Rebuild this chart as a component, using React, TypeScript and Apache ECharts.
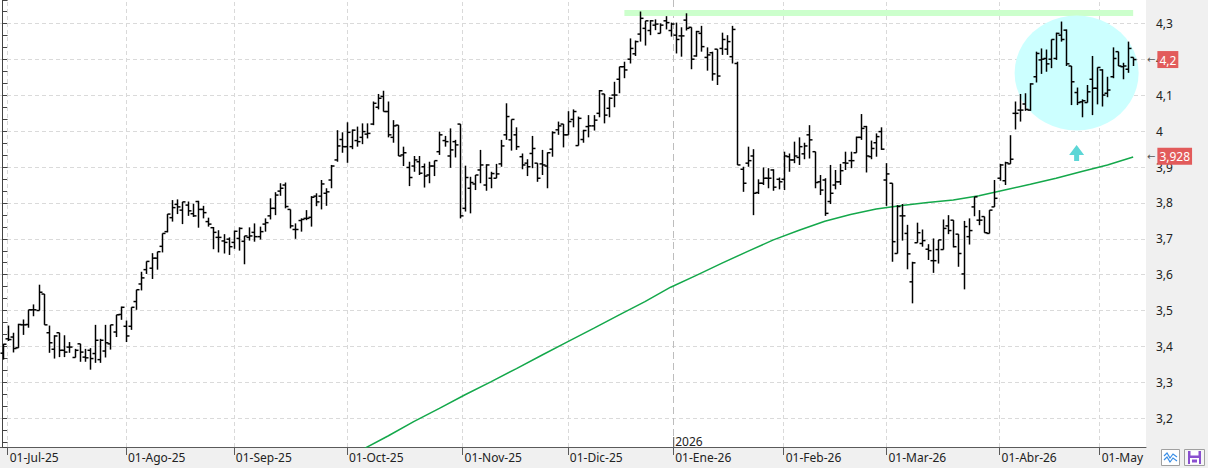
import React, { useEffect, useRef } from "react";
import * as echarts from "echarts";

// ---------- calendar (BME trading days) ----------
const HOLIDAYS = ["2025-12-25", "2025-12-26", "2026-01-01", "2026-04-03", "2026-04-06", "2026-05-01"];
function tradingDays(start: string, end: string): string[] {
  const out: string[] = [];
  const d = new Date(start + "T00:00:00Z");
  const e = new Date(end + "T00:00:00Z");
  while (d <= e) {
    const wd = d.getUTCDay();
    const s = d.toISOString().slice(0, 10);
    if (wd !== 0 && wd !== 6 && HOLIDAYS.indexOf(s) < 0) out.push(s);
    d.setUTCDate(d.getUTCDate() + 1);
  }
  return out;
}
const dates = tradingDays("2025-06-30", "2026-05-14");

// ---------- OHLC values ----------
const opens = [3.381,3.421,3.426,3.396,3.460,3.461,3.502,3.500,3.546,3.438,
3.392,3.438,3.389,3.398,3.369,3.407,3.370,3.389,3.380,3.363,
3.387,3.407,3.440,3.489,3.456,3.456,3.525,3.574,3.614,3.618,
3.646,3.679,3.720,3.759,3.796,3.780,3.794,3.770,3.804,3.782,
3.748,3.731,3.704,3.694,3.699,3.690,3.701,3.693,3.704,3.718,
3.706,3.741,3.764,3.785,3.833,3.850,3.782,3.726,3.751,3.757,
3.760,3.819,3.819,3.827,3.864,3.920,3.977,3.957,3.957,3.974,
3.983,3.992,4.020,4.067,4.097,4.055,3.983,4.017,3.934,3.899,
3.903,3.915,3.901,3.878,3.903,3.943,3.974,3.931,3.971,4.020,
3.785,3.841,3.853,3.892,3.850,3.869,3.869,3.909,3.990,3.976,
3.990,3.929,3.911,3.938,3.911,3.909,3.903,3.950,4.004,4.020,
3.990,4.033,3.960,3.977,4.013,4.015,4.050,4.104,4.064,4.101,
4.145,4.180,4.201,4.216,4.271,4.287,4.281,4.296,4.273,4.308,
4.281,4.268,4.266,4.310,4.290,4.210,4.273,4.206,4.219,4.229,
4.231,4.229,4.208,4.189,3.894,3.911,3.931,3.829,3.855,3.869,
3.892,3.866,3.866,3.929,3.920,3.927,3.937,3.990,3.943,3.859,
3.864,3.804,3.850,3.859,3.912,3.918,3.940,3.983,4.013,3.929,
3.968,3.999,3.864,3.855,3.659,3.764,3.715,3.580,3.689,3.687,
3.671,3.639,3.670,3.670,3.736,3.752,3.713,3.602,3.706,3.789,
3.752,3.762,3.715,3.789,3.869,3.862,3.909,4.050,4.059,4.076,
4.059,4.152,4.199,4.203,4.201,4.203,4.268,4.282,4.182,4.108,
4.082,4.080,4.145,4.120,4.171,4.106,4.152,4.222,4.180,4.173,
4.206];

const highs = [3.407,3.458,3.438,3.463,3.475,3.502,3.517,3.572,3.546,3.458,
3.431,3.438,3.431,3.412,3.393,3.407,3.393,3.395,3.460,3.421,
3.460,3.460,3.488,3.511,3.472,3.509,3.558,3.608,3.637,3.660,
3.664,3.715,3.769,3.808,3.810,3.803,3.804,3.798,3.806,3.792,
3.759,3.733,3.724,3.713,3.704,3.723,3.732,3.708,3.732,3.743,
3.734,3.757,3.813,3.830,3.855,3.857,3.782,3.743,3.757,3.780,
3.819,3.827,3.864,3.841,3.906,4.003,3.997,4.025,4.005,4.013,
4.022,4.022,4.083,4.104,4.113,4.083,4.031,4.017,3.957,3.915,
3.931,3.931,3.910,3.915,3.918,3.999,3.987,4.008,3.976,4.020,
3.904,3.873,3.878,3.948,3.908,3.887,3.909,3.976,4.078,4.033,
4.011,3.938,3.922,3.987,3.911,3.948,3.941,4.000,4.027,4.020,
4.056,4.061,4.041,4.004,4.045,4.045,4.115,4.104,4.095,4.138,
4.180,4.194,4.259,4.253,4.334,4.308,4.310,4.312,4.301,4.321,
4.303,4.303,4.290,4.329,4.290,4.280,4.294,4.234,4.222,4.229,
4.275,4.268,4.294,4.194,3.901,3.957,3.950,3.866,3.899,3.897,
3.894,3.871,3.943,3.938,3.971,3.983,3.968,4.017,3.943,3.878,
3.869,3.906,3.892,3.909,3.943,3.943,3.985,4.048,4.015,3.974,
3.994,4.011,3.911,3.855,3.794,3.797,3.739,3.636,3.745,3.726,
3.685,3.701,3.697,3.754,3.766,3.752,3.713,3.750,3.757,3.817,
3.780,3.762,3.780,3.864,3.909,3.915,3.989,4.083,4.104,4.106,
4.134,4.222,4.231,4.228,4.256,4.275,4.306,4.284,4.182,4.122,
4.089,4.129,4.210,4.178,4.173,4.152,4.234,4.222,4.191,4.250,
4.206];

const lows = [3.363,3.415,3.383,3.396,3.432,3.452,3.484,3.500,3.460,3.382,
3.366,3.370,3.370,3.382,3.369,3.357,3.357,3.335,3.354,3.354,
3.369,3.391,3.426,3.474,3.412,3.446,3.502,3.556,3.602,3.588,
3.614,3.662,3.718,3.748,3.769,3.741,3.764,3.761,3.731,3.757,
3.734,3.671,3.662,3.659,3.655,3.672,3.667,3.629,3.695,3.692,
3.698,3.720,3.754,3.766,3.820,3.785,3.729,3.700,3.720,3.752,
3.734,3.791,3.782,3.792,3.841,3.915,3.940,3.912,3.950,3.957,
3.964,3.980,4.017,4.061,4.055,3.983,3.968,3.931,3.903,3.847,
3.887,3.878,3.843,3.855,3.875,3.934,3.957,3.898,3.927,3.757,
3.776,3.771,3.836,3.855,3.834,3.841,3.869,3.901,3.976,3.946,
3.948,3.894,3.875,3.897,3.859,3.878,3.841,3.929,3.990,3.955,
3.990,4.011,3.960,3.968,3.983,4.002,4.039,4.022,4.039,4.067,
4.106,4.148,4.189,4.210,4.250,4.239,4.268,4.282,4.273,4.284,
4.264,4.217,4.208,4.281,4.173,4.208,4.222,4.169,4.141,4.129,
4.213,4.213,4.189,3.906,3.831,3.901,3.766,3.825,3.850,3.841,
3.834,3.838,3.836,3.887,3.911,3.906,3.922,3.924,3.841,3.822,
3.764,3.797,3.838,3.850,3.892,3.897,3.940,3.976,3.885,3.922,
3.929,3.948,3.792,3.636,3.659,3.695,3.615,3.520,3.689,3.678,
3.641,3.605,3.631,3.670,3.713,3.676,3.622,3.559,3.684,3.763,
3.738,3.717,3.715,3.789,3.862,3.850,3.909,4.005,4.027,4.057,
4.057,4.136,4.160,4.166,4.176,4.199,4.250,4.182,4.073,4.073,
4.039,4.080,4.045,4.075,4.069,4.095,4.148,4.182,4.145,4.163,
4.182];

const closes = [3.406,3.419,3.394,3.461,3.460,3.502,3.502,3.551,3.460,3.410,
3.429,3.389,3.384,3.398,3.389,3.384,3.368,3.366,3.417,3.417,
3.410,3.460,3.488,3.509,3.429,3.509,3.558,3.591,3.637,3.646,
3.664,3.715,3.769,3.787,3.789,3.803,3.778,3.764,3.782,3.773,
3.741,3.718,3.704,3.690,3.678,3.721,3.729,3.708,3.708,3.706,
3.720,3.745,3.785,3.822,3.841,3.790,3.736,3.726,3.754,3.757,
3.816,3.803,3.853,3.831,3.903,3.959,3.957,3.997,4.003,3.971,
3.999,3.994,4.078,4.092,4.055,3.990,4.015,3.931,3.940,3.871,
3.920,3.883,3.875,3.903,3.918,3.990,3.971,3.948,3.962,3.764,
3.871,3.857,3.878,3.906,3.906,3.882,3.881,3.959,4.041,4.033,
3.957,3.906,3.901,3.952,3.869,3.906,3.940,3.996,4.015,3.990,
4.027,4.055,4.036,4.002,4.015,4.031,4.113,4.045,4.092,4.101,
4.180,4.171,4.231,4.250,4.315,4.308,4.308,4.299,4.296,4.303,
4.299,4.256,4.266,4.287,4.201,4.278,4.236,4.213,4.160,4.154,
4.256,4.250,4.284,3.906,3.855,3.918,3.827,3.855,3.869,3.869,
3.844,3.859,3.931,3.920,3.931,3.957,3.959,3.976,3.857,3.836,
3.771,3.827,3.859,3.890,3.911,3.918,3.983,4.008,3.931,3.952,
3.985,3.950,3.881,3.692,3.790,3.764,3.658,3.633,3.717,3.695,
3.667,3.639,3.697,3.729,3.723,3.678,3.659,3.734,3.723,3.817,
3.752,3.717,3.780,3.813,3.906,3.912,3.922,4.050,4.059,4.061,
4.132,4.217,4.201,4.188,4.256,4.273,4.256,4.188,4.138,4.080,
4.085,4.110,4.120,4.178,4.101,4.115,4.203,4.182,4.182,4.231,
4.200];

// ---------- moving average (read at every 5th bar) ----------
const maIndex = [65,70,75,80,85,90,95,100,105,110,115,120,125,130,135,140,
145,150,155,160,165,170,175,180,185,190,195,200,205,210,215,220];
const maValues = [3.075,3.112,3.150,3.190,3.227,3.265,3.301,3.338,3.376,3.413,
3.450,3.488,3.525,3.565,3.598,3.632,3.665,3.697,3.724,3.749,3.768,3.783,
3.793,3.801,3.808,3.820,3.836,3.852,3.869,3.888,3.906,3.928];

// ---------- axis tick labels ----------
const monthStartDates = ["2025-07-01","2025-08-01","2025-09-01","2025-10-01","2025-11-03",
"2025-12-01","2026-01-02","2026-02-02","2026-03-02","2026-04-01","2026-05-04"];
const monthLabels = ["01-Jul-25","01-Ago-25","01-Sep-25","01-Oct-25","01-Nov-25",
"01-Dic-25","01-Ene-26","01-Feb-26","01-Mar-26","01-Abr-26","01-May"];
const monthLineShift = [0,0,0,0,-0.5,0,-0.5,0,0,0,-0.5];
const yearLabel = "2026";

// ---------- annotations ----------
const resistanceLevel = 4.33;
const resistanceFrom = "2025-12-16";
const resistanceTo = "2026-05-12";
const circleDate = "2026-04-24";
const circleValue = 4.1625;
const arrowValue = 3.939;

const Y_MIN = 3.1193;
const Y_MAX = 4.3661;

const fmtComma = (v: number) => String(v).replace(".", ",");

export default function App() {
  const ref = useRef<HTMLDivElement>(null);
  useEffect(() => {
    document.body.style.margin = "0";
    const el = ref.current!;
    const chart = echarts.init(el, null, { renderer: "svg" });
    const n = dates.length;
    const ohlc = opens.map((o, i) => [i, o, highs[i], lows[i], closes[i]]);
    const monthPos = monthStartDates.map((d, k) => dates.indexOf(d) + monthLineShift[k]);
    const yearPos = monthPos[6];
    const lastClose = closes[closes.length - 1];
    const lastMA = maValues[maValues.length - 1];
    const circleIdx = dates.indexOf(circleDate);
    const resA = dates.indexOf(resistanceFrom);
    const resB = dates.indexOf(resistanceTo);

    const priceLabel = (v: number) => ({
      yAxis: v,
      lineStyle: { color: "rgba(0,0,0,0)", width: 1 },
      label: {
        show: true,
        position: "end",
        distance: 1,
        formatter: "{arr|\u2190}{box|" + fmtComma(v) + "}",
        rich: {
          arr: { color: "#555555", fontSize: 10, fontFamily: "DejaVu Sans", padding: [0, 2, 0, 0] },
          box: {
            backgroundColor: "#e25b5b",
            color: "#ffffff",
            fontSize: 12,
            fontFamily: "Noto Sans",
            padding: [3, 2, 2, 2],
            lineHeight: 14,
          },
        },
      },
    });

    const option: any = {
      animation: false,
      backgroundColor: "#f0f0f0",
      grid: {
        left: 0, right: 62, top: 0, bottom: 21,
        show: true, backgroundColor: "#ffffff", borderWidth: 0,
        outerBoundsMode: "none", containLabel: false,
      },
      xAxis: {
        type: "value",
        min: -0.5,
        max: n - 0.5,
        axisLine: { show: true, lineStyle: { color: "#5a5a5a", width: 1 } },
        axisTick: { show: true, customValues: monthPos, length: 8, lineStyle: { color: "#5a5a5a" } },
        axisLabel: {
          show: true,
          customValues: monthPos,
          formatter: (v: number) => {
            const k = monthPos.findIndex((p) => Math.abs(p - v) < 1e-6);
            return k >= 0 ? monthLabels[k] : "";
          },
          align: "left",
          padding: [0, 0, 0, 2],
          margin: 4,
          color: "#222",
          fontSize: 12,
          fontFamily: "Noto Sans",
        },
        splitLine: { show: false },
      },
      yAxis: {
        type: "value",
        position: "right",
        min: Y_MIN,
        max: Y_MAX,
        splitNumber: 12,
        minInterval: 0.1,
        maxInterval: 0.1,
        axisLine: { show: true, lineStyle: { color: "#444" } },
        axisTick: { show: true, length: 5, lineStyle: { color: "#444" } },
        minorTick: { show: true, splitNumber: 3, length: 5, lineStyle: { color: "#444" } },
        axisLabel: {
          margin: 10,
          color: "#222",
          fontSize: 12,
          fontFamily: "Noto Sans",
          showMinLabel: false,
          showMaxLabel: false,
          formatter: (v: number) => {
            const r = Math.round(v * 10) / 10;
            if (Math.abs(v - r) > 1e-6) return "";
            return fmtComma(r);
          },
        },
        splitLine: {
          show: true,
          showMinLine: false,
          showMaxLine: false,
          lineStyle: { color: "#dadada", type: [4, 3], width: 1 },
        },
      },
      series: [
        {
          type: "scatter",
          silent: true,
          z: 1,
          data: [[circleIdx, circleValue]],
          symbol: "circle",
          symbolSize: [124, 115],
          itemStyle: { color: "#ccffff", opacity: 1 },
        },
        {
          type: "line",
          silent: true,
          z: 2,
          showSymbol: false,
          data: maIndex.map((i, k) => [i, maValues[k]]),
          lineStyle: { color: "#14a84b", width: 1.5 },
          markLine: {
            silent: true,
            z: 0.5,
            symbol: ["none", "none"],
            label: { show: false },
            data: [
              ...monthPos.map((p, k) => ({
                xAxis: p,
                lineStyle: k === 6
                  ? { color: "#bdbdbd", type: [7, 4], width: 1 }
                  : { color: "#d9d9d9", type: [4, 3], width: 1 },
              })),
              [
                { coord: [resA, resistanceLevel], lineStyle: { color: "#ccffcc", width: 6, type: "solid" } },
                { coord: [resB, resistanceLevel], lineStyle: { color: "#ccffcc", width: 6, type: "solid" } },
              ],
            ],
          },
        },
        {
          type: "custom",
          silent: true,
          z: 3,
          data: ohlc,
          encode: { x: 0, y: [1, 2, 3, 4] },
          renderItem: (_p: any, api: any) => {
            const i = api.value(0);
            const pO = api.coord([i, api.value(1)]);
            const pH = api.coord([i, api.value(2)]);
            const pL = api.coord([i, api.value(3)]);
            const pC = api.coord([i, api.value(4)]);
            const x = Math.round(pO[0]) + 0.5;
            const st = { stroke: "#000000", lineWidth: 1.5 };
            return {
              type: "group",
              children: [
                { type: "line", shape: { x1: x, y1: pH[1], x2: x, y2: pL[1] }, style: st },
                { type: "line", shape: { x1: x - 3, y1: pO[1], x2: x, y2: pO[1] }, style: st },
                { type: "line", shape: { x1: x, y1: pC[1], x2: x + 3, y2: pC[1] }, style: st },
              ],
            };
          },
        },
        {
          type: "scatter",
          silent: true,
          z: 4,
          data: [[circleIdx, arrowValue]],
          symbol: "path://M7.5,0 L15,10 L10,10 L10,16 L5,16 L5,10 L0,10 Z",
          symbolSize: [15, 16],
          itemStyle: { color: "#33cccc" },
          markLine: {
            silent: true,
            z: 20,
            symbol: ["none", "none"],
            data: [priceLabel(lastClose), priceLabel(lastMA)],
          },
        },
      ],
    };
    chart.setOption(option);

    const yx = chart.convertToPixel({ xAxisIndex: 0 }, yearPos) as unknown as number;
    chart.setOption({
      graphic: [
        { type: "line", shape: { x1: yx + 0.5, y1: 437, x2: yx + 0.5, y2: 447 }, style: { stroke: "#555", lineWidth: 1 }, z: 10 },
        { type: "text", x: yx + 2, y: 441, z: 10, style: { text: yearLabel, fill: "#222", fontSize: 12, fontFamily: "Noto Sans", verticalAlign: "middle", align: "left" } },
        { type: "rect", shape: { x: 1161.5, y: 449.5, width: 18, height: 16 }, style: { fill: "#ffffff", stroke: "#a0a0a0", lineWidth: 1 }, z: 10 },
        { type: "polyline", shape: { points: [[1164, 456], [1167, 453], [1170, 458], [1173, 454], [1177, 457]] }, style: { stroke: "#3a8ee6", lineWidth: 1.2, fill: "none" }, z: 11 },
        { type: "polyline", shape: { points: [[1164, 460], [1167, 457], [1170, 462], [1173, 458], [1177, 461]] }, style: { stroke: "#3a8ee6", lineWidth: 1.2, fill: "none" }, z: 11 },
        { type: "rect", shape: { x: 1184.5, y: 449.5, width: 20, height: 16 }, style: { fill: "#f6f6f6", stroke: "#a0a0a0", lineWidth: 1 }, z: 10 },
        { type: "rect", shape: { x: 1188, y: 451, width: 13, height: 13 }, style: { fill: "#8a4fcf" }, z: 11 },
        { type: "rect", shape: { x: 1190.5, y: 451, width: 8, height: 4.5 }, style: { fill: "#ffffff" }, z: 12 },
        { type: "rect", shape: { x: 1190, y: 458, width: 9, height: 6 }, style: { fill: "#ffffff" }, z: 12 },
        { type: "rect", shape: { x: 1192, y: 459.5, width: 5, height: 3 }, style: { fill: "#8a4fcf" }, z: 13 },
      ],
    });

    return () => {
      chart.dispose();
    };
  }, []);
  return <div ref={ref} style={{ width: 1208, height: 468, background: "#f0f0f0" }} />;
}
